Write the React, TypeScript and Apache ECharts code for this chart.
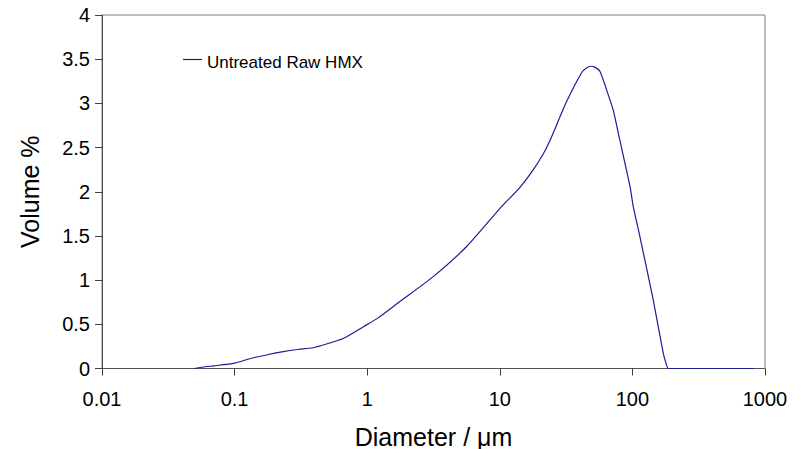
import React, { useEffect, useRef } from "react";
import * as echarts from "echarts";

const diameters = [0.05, 0.06, 0.07, 0.1, 0.13, 0.17, 0.233, 0.3, 0.39, 0.5, 0.66, 0.8, 0.93, 1.2, 1.77, 3.15, 5.62, 10.0, 14.2, 17.9, 21.3, 23.9, 31.9, 41.5, 45, 48.4, 52, 57, 67.7, 71.8, 80.5, 95.9, 101.6, 114, 143.8, 171, 180, 186.6, 200, 400, 817];
const volumes = [0, 0.02, 0.03, 0.06, 0.11, 0.15, 0.19, 0.215, 0.235, 0.28, 0.34, 0.41, 0.47, 0.57, 0.76, 1.04, 1.38, 1.81, 2.05, 2.25, 2.43, 2.58, 3.02, 3.35, 3.4, 3.42, 3.41, 3.36, 3.04, 2.92, 2.58, 2.06, 1.83, 1.49, 0.77, 0.17, 0.05, 0, 0, 0, 0];
const xTickLabels = ["0.01", "0.1", "1", "10", "100", "1000"];
const seriesName = "Untreated Raw HMX";

export default function App() {
  const ref = useRef<HTMLDivElement>(null);
  useEffect(() => {
    if (!ref.current) return;
    const chart = echarts.init(ref.current, null, { renderer: "svg" });
    const font = "Liberation Sans, Arial, sans-serif";
    const color = "#1c1c99";
    chart.setOption({
      animation: false,
      backgroundColor: "#ffffff",
      grid: {
        left: 102,
        top: 15,
        right: 40,
        bottom: 80.5,
        show: true,
        borderColor: "#808080",
        borderWidth: 1,
        containLabel: false,
        outerBoundsMode: "none",
      },
      graphic: [
        {
          type: "line",
          shape: { x1: 183, y1: 59.5, x2: 202, y2: 59.5 },
          style: { stroke: color, lineWidth: 1.2 },
        },
        {
          type: "text",
          x: 207,
          y: 62.5,
          style: {
            text: seriesName,
            fontFamily: font,
            fontSize: 17,
            fill: "#000",
            verticalAlign: "middle",
            align: "left",
          },
        },
      ],
      xAxis: {
        type: "log",
        logBase: 10,
        min: 0.01,
        max: 1000,
        name: "Diameter / μm",
        nameLocation: "middle",
        nameGap: 56,
        nameTextStyle: { fontFamily: font, fontSize: 25, lineHeight: 24, color: "#000" },
        axisLine: { onZero: false, lineStyle: { color: "#505050", width: 1 } },
        axisTick: { show: true, inside: false, length: 7, lineStyle: { color: "#404040" } },
        minorTick: { show: false },
        splitLine: { show: false },
        axisLabel: {
          fontFamily: font,
          fontSize: 20,
          color: "#000",
          margin: 20,
          formatter: (v: number) => {
            const idx = Math.round(Math.log10(v)) + 2;
            return xTickLabels[idx] ?? String(v);
          },
        },
      },
      yAxis: {
        type: "value",
        min: 0,
        max: 4,
        interval: 0.5,
        name: "Volume %",
        nameLocation: "middle",
        nameGap: 60,
        nameTextStyle: { fontFamily: font, fontSize: 25, color: "#000" },
        axisLine: { show: true, lineStyle: { color: "#505050", width: 1 } },
        axisTick: { show: true, inside: false, length: 7, lineStyle: { color: "#404040" } },
        splitLine: { show: false },
        axisLabel: { fontFamily: font, fontSize: 20, color: "#000", margin: 12 },
      },
      series: [
        {
          name: seriesName,
          type: "line",
          data: diameters.map((d, i) => [d, volumes[i]]),
          showSymbol: false,
          smooth: 0.2,
          lineStyle: { color: color, width: 1.2 },
          itemStyle: { color: color },
        },
      ],
    });
    return () => chart.dispose();
  }, []);
  return (
    <div
      ref={ref}
      style={{ position: "fixed", left: 0, top: 0, width: 805, height: 449 }}
    />
  );
}
